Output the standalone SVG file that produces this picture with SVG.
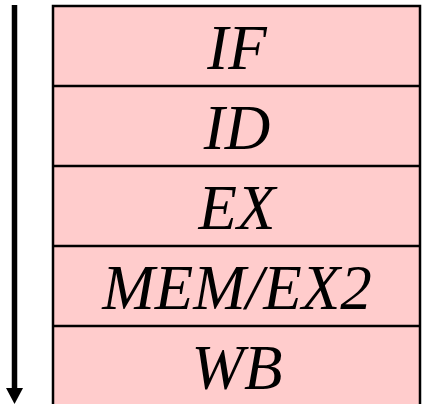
<svg xmlns="http://www.w3.org/2000/svg" width="425" height="404" viewBox="0 0 425 404">
  <style>
    .stage rect { fill: #ffcccc; stroke: none; }
    .stage text { font-family: "Liberation Serif", "Times New Roman", serif; font-style: italic; font-size: 63px; fill: #000; text-anchor: middle; }
    .edge { stroke: #000; stroke-width: 2.5; fill: none; }
  </style>
  <defs>
    <marker id="head" markerUnits="userSpaceOnUse" markerWidth="18" markerHeight="18" refX="3" refY="9" orient="auto">
      <path d="M0,0.5 L16,9 L0,17.5 Z" fill="#000"/>
    </marker>
  </defs>

  <!-- pipeline stages, one row each -->
  <g id="stage-if" class="stage"><rect x="53" y="6" width="367" height="80"/><text x="237" y="69">IF</text></g>
  <g id="stage-id" class="stage"><rect x="53" y="86" width="367" height="80"/><text x="237" y="149">ID</text></g>
  <g id="stage-ex" class="stage"><rect x="53" y="166" width="367" height="80"/><text x="237" y="229">EX</text></g>
  <g id="stage-mem" class="stage"><rect x="53" y="246" width="367" height="80"/><text x="237" y="309">MEM/EX2</text></g>
  <g id="stage-wb" class="stage"><rect x="53" y="326" width="367" height="80"/><text x="237" y="389">WB</text></g>

  <!-- borders and separators -->
  <g id="connectors">
    <path class="edge" d="M53,404 V6 H420 V404"/>
    <path class="edge" d="M53,86 H420 M53,166 H420 M53,246 H420 M53,326 H420"/>
    <line x1="14.5" y1="5" x2="14.5" y2="391" stroke="#000" stroke-width="5.5" marker-end="url(#head)"/>
  </g>
</svg>
